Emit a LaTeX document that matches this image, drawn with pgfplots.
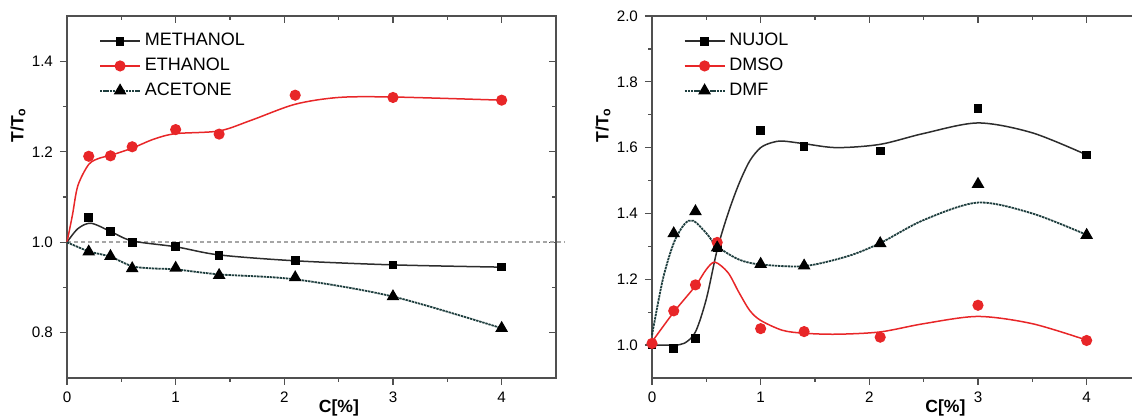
\documentclass[border=0pt]{standalone}
\usepackage{fontspec}
\setmainfont{Liberation Sans}
\usepackage{pgfplots}
\pgfplotsset{compat=1.18}

\definecolor{ored}{RGB}{232,38,40}
\definecolor{odark}{RGB}{45,45,45}
\definecolor{oteal}{RGB}{30,62,62}
\definecolor{oaxis}{RGB}{80,80,80}

\pgfplotsset{
  panel/.style={
    scale only axis, width=244.5pt, height=181pt, anchor=south west,
    xmin=0, xmax=4.5, xtick={0,1,2,3,4}, minor x tick num=1, minor y tick num=1,
    axis line style={oaxis, line width=0.8pt},
    every tick/.style={oaxis, line width=0.6pt},
    major tick length=3.5pt, minor tick length=2pt,
    /pgf/number format/assume math mode=true,
    tick label style={font=\fontsize{7.6}{9}\selectfont},
    yticklabel style={/pgf/number format/.cd, fixed, fixed zerofill, precision=1},
  },
  back/.style={xtick pos=right, ytick pos=right, tick align=inside,
    xticklabels={}, yticklabels={}},
  front/.style={xtick pos=left, ytick pos=left, tick align=outside, clip=false,
    xlabel={\bfseries C[\%]}, ylabel={\bfseries T/T\textsubscript{o}},
    label style={font=\fontsize{8.8}{10}\selectfont},
    xlabel style={anchor=center, yshift=-15pt},
    ylabel style={at={(rel axis cs:0,0.699)}, anchor=center, yshift=24.5pt},
    legend cell align=left,
    legend style={anchor=north west, yshift=-6.5pt, draw=none, fill=none,
      inner sep=0pt, row sep=0.6pt, font=\fontsize{9}{10.5}\selectfont},
    legend image code/.code={\draw[mark repeat=2, mark phase=2, #1]
      plot coordinates {(0pt,0pt) (10pt,0pt) (20pt,0pt)};},
  },
  sq/.style={odark, line width=0.75pt, mark=square*, mark size=1.8pt, mark options={solid, fill=black, draw=black}},
  ci/.style={ored, line width=0.75pt, mark=*, mark size=2.4pt, mark options={solid, fill=ored, draw=ored}},
  tr/.style={oteal, line width=0.9pt, dash pattern=on 1.2pt off 0.4pt, mark=triangle*, mark size=2.8pt, mark options={solid, fill=black, draw=black}},
}

\begin{document}
\begin{tikzpicture}
% ---------------- left panel ----------------
\begin{axis}[panel, back, at={(33.5pt,19.5pt)}, ymin=0.7, ymax=1.5, ytick={0.8,1.0,1.2,1.4}]
\end{axis}
\begin{axis}[panel, front, at={(33.5pt,19.5pt)}, ymin=0.7, ymax=1.5, ytick={0.8,1.0,1.2,1.4},
  xlabel style={at={(rel axis cs:0.556,0)}},
  legend style={at={(rel axis cs:0.065,1)}}]
\draw[gray!70, line width=0.8pt, dash pattern=on 2pt off 1.5pt] (axis cs:0,1) -- (axis cs:4.58,1);
% fitted curves
\addplot[odark, line width=0.75pt, smooth, forget plot] coordinates {
  (0,1.0) (0.1,1.03) (0.22,1.042) (0.4,1.024) (0.6,1.003) (1.0,0.99) (1.4,0.972) (2.1,0.959) (3.0,0.95) (4.0,0.945)};
\addplot[ored, line width=0.75pt, smooth, forget plot] coordinates {
  (0,1.0) (0.05,1.06) (0.1,1.125) (0.2,1.172) (0.3,1.186) (0.4,1.192) (0.6,1.208) (0.8,1.228) (1.0,1.24) (1.4,1.246) (1.7,1.27) (2.1,1.305) (2.5,1.32) (3.0,1.321) (4.0,1.314)};
\addplot[oteal, line width=0.9pt, dash pattern=on 1.2pt off 0.4pt, smooth, forget plot] coordinates {
  (0,1.0) (0.2,0.98) (0.4,0.968) (0.6,0.947) (0.8,0.942) (1.0,0.94) (1.4,0.929) (2.1,0.918) (3.0,0.88) (4.0,0.81)};
% measured points
\addplot[sq, only marks, forget plot] coordinates {
  (0.2,1.055) (0.4,1.023) (0.6,1.0) (1.0,0.99) (1.4,0.97) (2.1,0.959) (3.0,0.95) (4.0,0.945)};
\addplot[ci, only marks, forget plot] coordinates {
  (0.2,1.19) (0.4,1.191) (0.6,1.211) (1.0,1.249) (1.4,1.239) (2.1,1.325) (3.0,1.32) (4.0,1.314)};
\addplot[tr, only marks, forget plot] coordinates {
  (0.2,0.979) (0.4,0.969) (0.6,0.942) (1.0,0.943) (1.4,0.927) (2.1,0.922) (3.0,0.88) (4.0,0.81)};
\addlegendimage{sq}\addlegendentry{METHANOL}
\addlegendimage{ci}\addlegendentry{ETHANOL}
\addlegendimage{tr}\addlegendentry{ACETONE}
\end{axis}

% ---------------- right panel ----------------
\begin{axis}[panel, back, at={(326pt,19.5pt)}, ymin=0.9, ymax=2.0, ytick={1.0,1.2,1.4,1.6,1.8,2.0}]
\end{axis}
\begin{axis}[panel, front, at={(326pt,19.5pt)}, ymin=0.9, ymax=2.0, ytick={1.0,1.2,1.4,1.6,1.8,2.0},
  xlabel style={at={(rel axis cs:0.60,0)}},
  legend style={at={(rel axis cs:0.064,1)}}]
% fitted curves
\addplot[odark, line width=0.75pt, smooth, forget plot] coordinates {
  (0,1.0) (0.2,1.0) (0.3,1.006) (0.4,1.04) (0.5,1.14) (0.6,1.29) (0.7,1.40) (0.8,1.49) (0.9,1.56) (1.0,1.60) (1.1,1.615) (1.2,1.62) (1.4,1.612) (1.7,1.60) (2.1,1.61) (2.5,1.643) (3.0,1.675) (3.5,1.645) (4.0,1.578)};
\addplot[ored, line width=0.75pt, smooth, forget plot] coordinates {
  (0,1.01) (0.2,1.10) (0.4,1.18) (0.5,1.23) (0.58,1.252) (0.7,1.22) (0.8,1.16) (0.9,1.105) (1.0,1.075) (1.2,1.045) (1.4,1.036) (1.7,1.033) (2.1,1.04) (2.5,1.065) (3.0,1.087) (3.5,1.065) (4.0,1.015)};
\addplot[oteal, line width=0.9pt, dash pattern=on 1.2pt off 0.4pt, smooth, forget plot] coordinates {
  (0,1.03) (0.1,1.2) (0.2,1.31) (0.3,1.368) (0.38,1.378) (0.5,1.34) (0.6,1.30) (0.8,1.26) (1.0,1.245) (1.4,1.24) (1.8,1.27) (2.1,1.31) (2.5,1.38) (3.0,1.433) (3.5,1.40) (4.0,1.335)};
% measured points
\addplot[sq, only marks, forget plot] coordinates {
  (0,1.0) (0.2,0.99) (0.4,1.019) (0.6,1.296) (1.0,1.651) (1.4,1.604) (2.1,1.59) (3.0,1.718) (4.0,1.578)};
\addplot[ci, only marks, forget plot] coordinates {
  (0,1.005) (0.2,1.104) (0.4,1.183) (0.6,1.312) (1.0,1.05) (1.4,1.041) (2.1,1.024) (3.0,1.121) (4.0,1.014)};
\addplot[tr, only marks, forget plot] coordinates {
  (0.2,1.339) (0.4,1.406) (0.6,1.296) (1.0,1.246) (1.4,1.241) (2.1,1.309) (3.0,1.489) (4.0,1.334)};
\addlegendimage{sq}\addlegendentry{NUJOL}
\addlegendimage{ci}\addlegendentry{DMSO}
\addlegendimage{tr}\addlegendentry{DMF}
\end{axis}
\pgfresetboundingbox
\path[use as bounding box] (0,0) rectangle (566pt,208.5pt);
\end{tikzpicture}
\end{document}
